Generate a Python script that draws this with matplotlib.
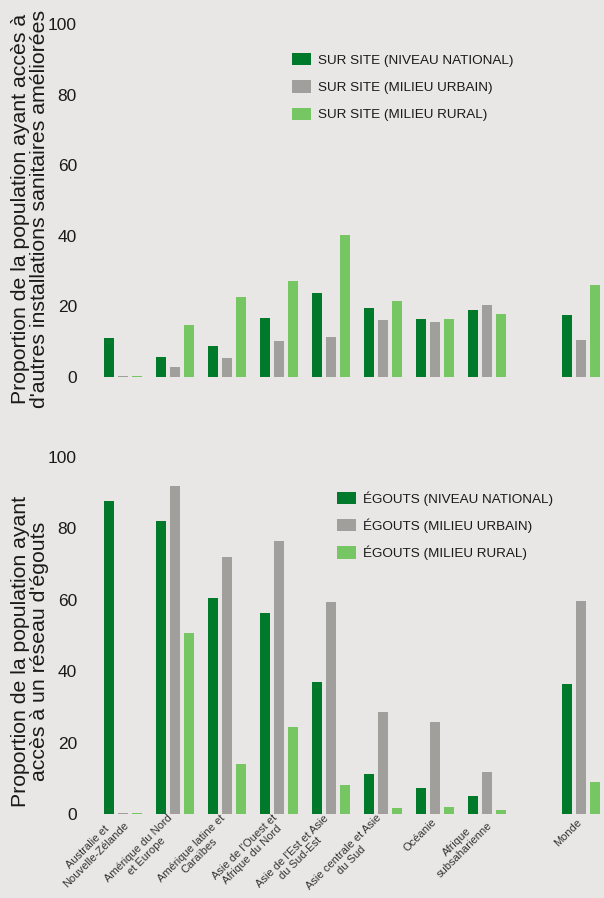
import matplotlib
matplotlib.use("Agg")
import matplotlib.pyplot as plt
from matplotlib.patches import Patch
import numpy as np

regions = ["Australie et\nNouvelle-Zélande", "Amérique du Nord\net Europe",
           "Amérique latine et\nCaraïbes", "Asie de l'Ouest et\nAfrique du Nord",
           "Asie de l'Est et Asie\ndu Sud-Est", "Asie centrale et Asie\ndu Sud",
           "Océanie", "Afrique\nsubsaharienne", "Monde"]

site_national = [11.0, 5.7, 8.8, 16.7, 23.8, 19.5, 16.4, 19.0, 17.6]
site_urbain   = [0.3, 2.8, 5.4, 10.2, 11.3, 16.1, 15.6, 20.4, 10.5]
site_rural    = [0.3, 14.7, 22.7, 27.2, 40.2, 21.5, 16.4, 17.8, 26.1]

egouts_national = [87.6, 82.2, 60.4, 56.2, 36.9, 11.2, 7.3, 5.0, 36.4]
egouts_urbain   = [0.3, 92.0, 71.9, 76.4, 59.3, 28.5, 25.7, 11.8, 59.6]
egouts_rural    = [0.3, 50.6, 14.0, 24.3, 8.1, 1.7, 2.0, 1.1, 9.0]

labels_site = ["SUR SITE (NIVEAU NATIONAL)", "SUR SITE (MILIEU URBAIN)", "SUR SITE (MILIEU RURAL)"]
labels_egouts = ["ÉGOUTS (NIVEAU NATIONAL)", "ÉGOUTS (MILIEU URBAIN)", "ÉGOUTS (MILIEU RURAL)"]
yticks = [0, 20, 40, 60, 80, 100]

BG = "#E8E7E5"
C_DARK = "#007A2A"
C_GREY = "#A09F9B"
C_LIGHT = "#76C763"
colors = [C_DARK, C_GREY, C_LIGHT]

plt.rcParams['font.family'] = ['Liberation Sans', 'DejaVu Sans']

W, H = 604, 898
fig = plt.figure(figsize=(W / 100, H / 100), dpi=100, facecolor=BG)

pos = np.array(list(range(8)) + [8.8])
bw = 10 / 52
off = 14 / 52
x0_px, x1_px = 95, 600
xl = ((x0_px - 123) / 52, (x1_px - 123) / 52)

def make_ax(ybot_px, ytop_px):
    ax = fig.add_axes([x0_px / W, 1 - ybot_px / H, (x1_px - x0_px) / W, (ybot_px - ytop_px) / H])
    ax.set_facecolor(BG)
    for s in ax.spines.values():
        s.set_visible(False)
    ax.set_ylim(0, 100)
    ax.set_xlim(*xl)
    ax.set_yticks(yticks)
    ax.tick_params(axis='y', length=0, pad=13, labelsize=12.5, labelcolor="#1a1a1a")
    return ax

def draw(ax, series):
    for k, (vals, c) in enumerate(zip(series, colors)):
        ax.bar(pos + (k - 1) * off, vals, width=bw, color=c, linewidth=0)

ax1 = make_ax(377, 24)
draw(ax1, [site_national, site_urbain, site_rural])
ax1.set_xticks([])
h1 = [Patch(facecolor=c, edgecolor='none') for c in colors]
ax1.legend(h1, labels_site, loc='upper left', bbox_to_anchor=((292 - x0_px) / (x1_px - x0_px), 1 - (53 - 24) / (377 - 24)),
           frameon=False, fontsize=9.7, handlelength=1.4, handleheight=1.05, handletextpad=0.5,
           labelspacing=1.0, borderaxespad=0, borderpad=0, labelcolor="#1a1a1a")

ax2 = make_ax(814, 457)
draw(ax2, [egouts_national, egouts_urbain, egouts_rural])
ax2.set_xticks(pos)
ax2.set_xticklabels(regions, rotation=45, ha='right', va='center', rotation_mode='anchor',
                    multialignment='center', fontsize=8.0, color="#333333", linespacing=1.12)
ax2.tick_params(axis='x', length=0, pad=4.5)
h2 = [Patch(facecolor=c, edgecolor='none') for c in colors]
ax2.legend(h2, labels_egouts, loc='upper left', bbox_to_anchor=((337 - x0_px) / (x1_px - x0_px), 1 - (491 - 457) / (814 - 457)),
           frameon=False, fontsize=9.7, handlelength=1.4, handleheight=1.05, handletextpad=0.5,
           labelspacing=0.95, borderaxespad=0, borderpad=0, labelcolor="#1a1a1a")

fig.text(30 / W, 1 - 209 / H, "Proportion de la population ayant accès à\nd'autres installations sanitaires améliorées",
         rotation=90, ha='center', va='center', multialignment='center', fontsize=15.3, color="#1a1a1a",
         linespacing=1.05)
fig.text(30 / W, 1 - 651 / H, "Proportion de la population ayant\naccès à un réseau d'égouts",
         rotation=90, ha='center', va='center', multialignment='center', fontsize=15.3, color="#1a1a1a",
         linespacing=1.05)

fig.savefig("out.png", dpi=100, facecolor=BG)
